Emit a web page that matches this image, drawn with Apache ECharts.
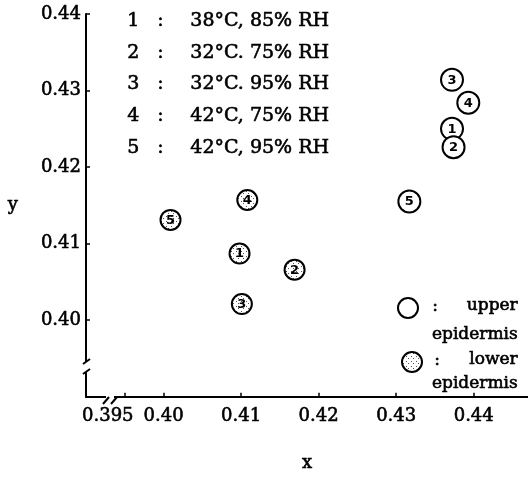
<!DOCTYPE html>
<html><head><meta charset="utf-8">
<script src="https://cdn.jsdelivr.net/npm/echarts@6/dist/echarts.min.js"></script>
<style>html,body{margin:0;padding:0;background:#fff}#c{width:528px;height:478px}</style>
</head><body><div id="c"></div>
<script>
// ---- data ----
const upperLabels = ['1', '2', '3', '4', '5'];
const upperX = [0.4372, 0.4374, 0.4372, 0.4393, 0.4317];
const upperY = [0.4250, 0.4226, 0.4314, 0.4284, 0.4155];
const lowerLabels = ['1', '2', '3', '4', '5'];
const lowerX = [0.4098, 0.4169, 0.4101, 0.4108, 0.4009];
const lowerY = [0.4087, 0.4066, 0.4021, 0.4157, 0.4131];
const xTicks = [0.395, 0.40, 0.41, 0.42, 0.43, 0.44];
const xTickLabels = ['0.395', '0.40', '0.41', '0.42', '0.43', '0.44'];
const yTicks = [0.40, 0.41, 0.42, 0.43, 0.44];
const yTickLabels = ['0.40', '0.41', '0.42', '0.43', '0.44'];
const condNums = ['1', '2', '3', '4', '5'];
const condTexts = ['38°C, 85% RH', '32°C. 75% RH', '32°C. 95% RH', '42°C, 75% RH', '42°C, 95% RH'];

const FONT = '"DejaVu Serif", "Liberation Serif", serif';
const THICK = { stroke: '#000', lineWidth: 0.6 };

// dotted pattern for lower epidermis
const pc = document.createElement('canvas');
pc.width = 5; pc.height = 5;
const pctx = pc.getContext('2d');
pctx.fillStyle = '#ffffff'; pctx.fillRect(0, 0, 5, 5);
pctx.fillStyle = '#555';
pctx.fillRect(1, 1, 1, 1); pctx.fillRect(3, 3, 1, 1);
const dotted = { image: pc, repeat: 'repeat' };

const upperData = upperX.map((x, i) => [x, upperY[i]]);
const lowerData = lowerX.map((x, i) => [x, lowerY[i]]);

const chart = echarts.init(document.getElementById('c'), null, { renderer: 'canvas' });

function txt(opts, text, size) {
  return Object.assign({ type: 'text', style: Object.assign({ text: text, font: size + 'px ' + FONT, fill: '#000' }, THICK) }, opts);
}

const graphics = [];
condNums.forEach((n, i) => {
  const y = 22 + i * 31.8;
  graphics.push(txt({ left: 127, top: y - 11 }, n, 19));
  graphics.push(txt({ left: 157, top: y - 11 }, ':', 19));
  graphics.push(txt({ left: 190, top: y - 11 }, condTexts[i], 19));
});
// bottom-right legend
graphics.push({ type: 'circle', shape: { cx: 408, cy: 308, r: 10 }, style: { fill: '#fff', stroke: '#000', lineWidth: 2 } });
graphics.push(txt({ left: 432, top: 298 }, ':', 17));
graphics.push(txt({ right: 10, top: 297 }, 'upper', 17));
graphics.push(txt({ right: 10, top: 326 }, 'epidermis', 17));
graphics.push({ type: 'circle', shape: { cx: 412, cy: 362, r: 10 }, style: { fill: dotted, stroke: '#000', lineWidth: 2 } });
graphics.push(txt({ left: 434, top: 352 }, ':', 17));
graphics.push(txt({ right: 10, top: 351 }, 'lower', 17));
graphics.push(txt({ right: 10, top: 375 }, 'epidermis', 17));
// axis break marks
graphics.push({ type: 'rect', shape: { x: 82, y: 362, width: 8, height: 10 }, style: { fill: '#fff' }, z: 100 });
graphics.push({ type: 'line', shape: { x1: 83, y1: 364, x2: 90, y2: 359 }, style: { stroke: '#000', lineWidth: 2 }, z: 101 });
graphics.push({ type: 'line', shape: { x1: 83, y1: 374, x2: 90, y2: 369 }, style: { stroke: '#000', lineWidth: 2 }, z: 101 });
graphics.push({ type: 'rect', shape: { x: 106, y: 396, width: 8, height: 8 }, style: { fill: '#fff' }, z: 100 });
graphics.push({ type: 'line', shape: { x1: 103, y1: 404, x2: 109, y2: 397 }, style: { stroke: '#000', lineWidth: 2 }, z: 101 });
graphics.push({ type: 'line', shape: { x1: 111, y1: 404, x2: 117, y2: 397 }, style: { stroke: '#000', lineWidth: 2 }, z: 101 });

function circleItem(fill, r, labels) {
  return function (params, api) {
    const p = api.coord([api.value(0), api.value(1)]);
    return {
      type: 'group',
      children: [
        { type: 'circle', shape: { cx: p[0], cy: p[1], r: r }, style: { fill: fill, stroke: '#000', lineWidth: 2 } },
        { type: 'text', x: p[0], y: p[1] + 0.5, z2: 10, style: { text: labels[params.dataIndex], fontSize: 13, fontWeight: 'bold', fontFamily: 'DejaVu Sans', fill: '#000', align: 'center', verticalAlign: 'middle' } }
      ]
    };
  };
}

const labelText = { fontFamily: FONT, fontSize: 18, color: '#000', textBorderColor: '#000', textBorderWidth: 0.6 };
const mainLabelTicks = xTicks.slice(1);
chart.setOption({
  animation: false,
  backgroundColor: '#fff',
  grid: { left: 86, top: 14, right: 0, bottom: 77, containLabel: false },
  xAxis: {
    type: 'value', min: 0.39, max: 0.447,
    name: 'x', nameLocation: 'middle', nameGap: 58,
    nameTextStyle: labelText,
    axisLine: { show: true, onZero: false, lineStyle: { color: '#000', width: 2 } },
    axisTick: { show: true, inside: true, length: 4, customValues: xTicks, lineStyle: { color: '#000', width: 1.5 } },
    axisLabel: Object.assign({
      customValues: mainLabelTicks, margin: 11,
      formatter: v => { const i = xTicks.findIndex(t => Math.abs(t - v) < 1e-9); return i >= 0 ? xTickLabels[i] : ''; }
    }, labelText),
    splitLine: { show: false }
  },
  yAxis: {
    type: 'value', min: 0.39, max: 0.44,
    name: 'y', nameLocation: 'middle', nameGap: 68, nameRotate: 0,
    nameTextStyle: labelText,
    axisLine: { show: true, onZero: false, lineStyle: { color: '#000', width: 2 } },
    axisTick: { show: true, inside: true, length: 4, customValues: yTicks, lineStyle: { color: '#000', width: 1.5 } },
    axisLabel: Object.assign({
      customValues: yTicks, margin: 5,
      formatter: v => { const i = yTicks.findIndex(t => Math.abs(t - v) < 1e-9); return i >= 0 ? yTickLabels[i] : ''; }
    }, labelText),
    splitLine: { show: false }
  },
  series: [
    { name: 'upper epidermis', type: 'custom', data: upperData, renderItem: circleItem('#fff', 11, upperLabels), z: 5 },
    { name: 'lower epidermis', type: 'custom', data: lowerData, renderItem: circleItem(dotted, 10, lowerLabels), z: 5 }
  ],
  graphic: graphics
});

// first x tick label (0.395), placed through the axis scale and shifted left as in the original
const px0 = chart.convertToPixel({ xAxisIndex: 0 }, xTicks[0]);
const py0 = chart.convertToPixel({ yAxisIndex: 0 }, 0.39);
graphics.push({ type: 'text', x: px0 - 17, y: py0 + 11, style: Object.assign({ text: xTickLabels[0], font: '18px ' + FONT, fill: '#000', align: 'center', verticalAlign: 'top' }, THICK) });
chart.setOption({ graphic: graphics });
</script></body></html>
